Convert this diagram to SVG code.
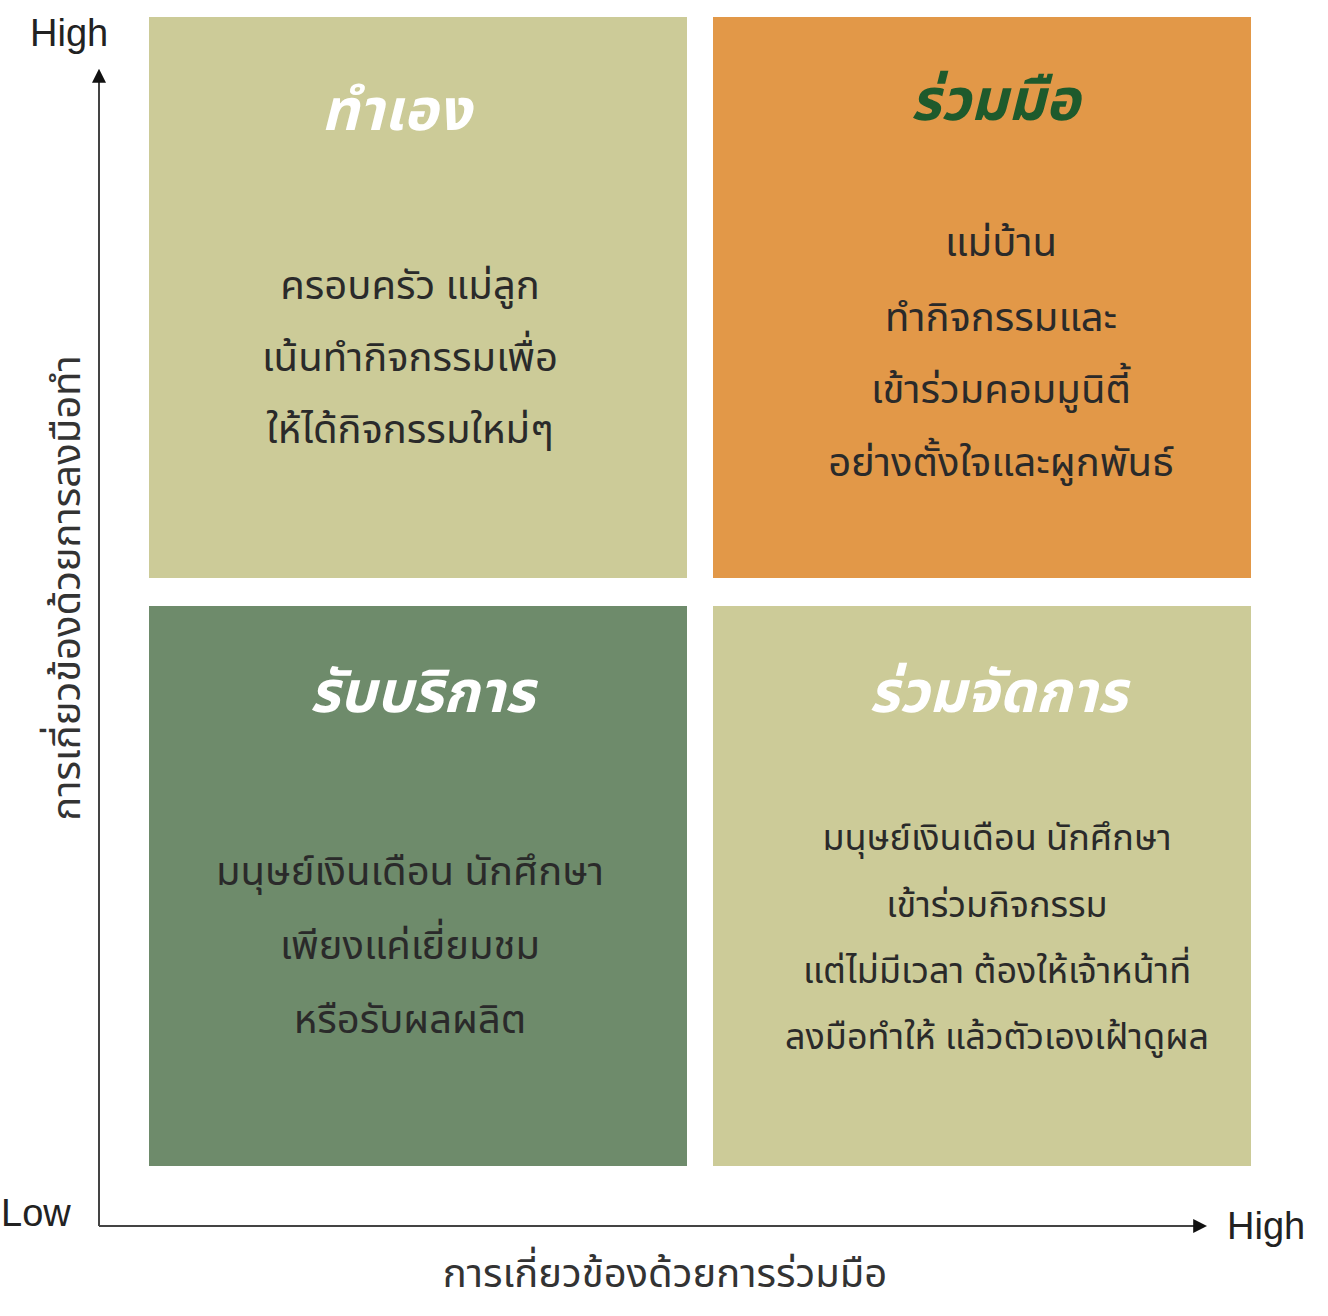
<svg xmlns="http://www.w3.org/2000/svg" width="1328" height="1316" viewBox="0 0 1328 1316">
<defs>
<style>
.q-light{fill:#CCCB98}
.q-orange{fill:#E29848}
.q-green{fill:#6E8B6B}
.title{font-family:"Noto Sans Thai","Noto Sans","DejaVu Sans",sans-serif;font-size:58px;font-weight:bold;font-style:italic;text-anchor:middle}
.body{font-family:"Noto Sans Thai","Noto Sans","DejaVu Sans",sans-serif;font-size:40px;fill:#2a2a2a;text-anchor:middle}
.body-s{font-size:36px}
.axis{font-family:"Liberation Sans","Noto Sans","DejaVu Sans",sans-serif;font-size:38px;fill:#222}
.axislabel{font-family:"Noto Sans Thai","Noto Sans","DejaVu Sans",sans-serif;font-size:40px;fill:#333;text-anchor:middle}
.ax{stroke:#444;stroke-width:2;fill:none}
</style>
<marker id="arrow" viewBox="0 0 10 10" refX="2" refY="5" markerWidth="14" markerHeight="14" markerUnits="userSpaceOnUse" orient="auto">
<path d="M0,0 L10,5 L0,10 z" fill="#111"/>
</marker>
</defs>
<rect width="1328" height="1316" fill="#fff"/>
<g id="q-tl">
<rect class="q-light" x="149" y="17" width="538" height="561"/>
<text class="title" x="396" y="130" fill="#fff">ทำเอง</text>
<text class="body" x="410" y="299">ครอบครัว แม่ลูก</text>
<text class="body" x="410" y="371">เน้นทำกิจกรรมเพื่อ</text>
<text class="body" x="410" y="443">ให้ได้กิจกรรมใหม่ๆ</text>
</g>
<g id="q-tr">
<rect class="q-orange" x="713" y="17" width="538" height="561"/>
<text class="title" x="995" y="120" fill="#1E5A2C">ร่วมมือ</text>
<text class="body" x="1001" y="256">แม่บ้าน</text>
<text class="body" x="1001" y="331">ทำกิจกรรมและ</text>
<text class="body" x="1001" y="403">เข้าร่วมคอมมูนิตี้</text>
<text class="body" x="1001" y="476">อย่างตั้งใจและผูกพันธ์</text>
</g>
<g id="q-bl">
<rect class="q-green" x="149" y="606" width="538" height="560"/>
<text class="title" x="422" y="712" fill="#fff">รับบริการ</text>
<text class="body" x="410" y="885">มนุษย์เงินเดือน นักศึกษา</text>
<text class="body" x="410" y="959">เพียงแค่เยี่ยมชม</text>
<text class="body" x="410" y="1033">หรือรับผลผลิต</text>
</g>
<g id="q-br">
<rect class="q-light" x="713" y="606" width="538" height="560"/>
<text class="title" x="998" y="712" fill="#fff">ร่วมจัดการ</text>
<text class="body body-s" x="997" y="850">มนุษย์เงินเดือน  นักศึกษา</text>
<text class="body body-s" x="997" y="917">เข้าร่วมกิจกรรม</text>
<text class="body body-s" x="997" y="983">แต่ไม่มีเวลา ต้องให้เจ้าหน้าที่</text>
<text class="body body-s" x="997" y="1049">ลงมือทำให้ แล้วตัวเองเฝ้าดูผล</text>
</g>
<g id="connectors">
<line class="ax" x1="99" y1="1226" x2="99" y2="80" marker-end="url(#arrow)"/>
<line class="ax" x1="99" y1="1226" x2="1196" y2="1226" marker-end="url(#arrow)"/>
</g>
<g id="labels">
<text class="axis" x="30" y="46">High</text>
<text class="axis" x="1" y="1226">Low</text>
<text class="axis" x="1227" y="1239">High</text>
<text class="axislabel" x="665" y="1287">การเกี่ยวข้องด้วยการร่วมมือ</text>
<text class="axislabel" transform="translate(80,588) rotate(-90)">การเกี่ยวข้องด้วยการลงมือทำ</text>
</g>
</svg>
